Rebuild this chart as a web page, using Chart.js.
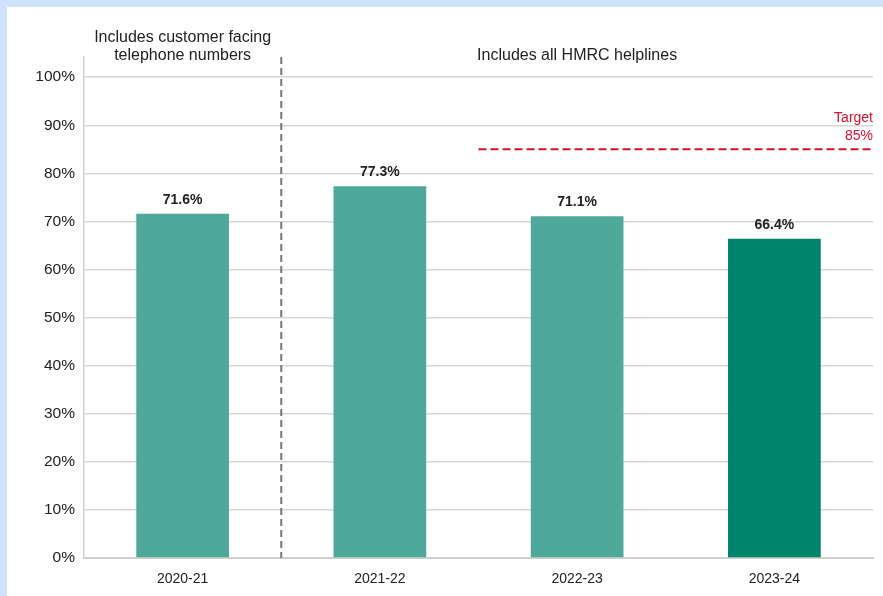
<!DOCTYPE html>
<html>
<head>
<meta charset="utf-8">
<script src="https://cdn.jsdelivr.net/npm/chart.js@4"></script>
<style>
  html, body { margin: 0; padding: 0; }
  body { background: #cfe1fb; width: 883px; height: 596px; overflow: hidden; }
  #panel { position: absolute; left: 7px; top: 7px; width: 876px; height: 589px; background: #fff; }
</style>
</head>
<body>
<div id="panel"><canvas id="calls" width="876" height="589"></canvas></div>
<script>
var years = ['2020-21', '2021-22', '2022-23', '2023-24'];
var answered = [71.6, 77.3, 71.1, 66.4];
var barColours = ['#4fa99a', '#4fa99a', '#4fa99a', '#00836d'];
var target = 85;
var targetFrom = 2;          // target line starts at 2022-23
var dividerAfter = 0;        // dashed divider after 2020-21
var groupLabels = [
    { lines: ['Includes customer facing', 'telephone numbers'], first: 0, last: 0 },
    { lines: ['Includes all HMRC helplines'], first: 1, last: 3 }
];

var FONT = '"Liberation Sans", Arial, sans-serif';

// divider, target line, headings and value labels
var extras = {
    id: 'extras',
    afterDatasetsDraw: function(chart) {
        var ctx = chart.ctx;
        var x = chart.scales.x, y = chart.scales.y;
        var area = chart.chartArea;
        var half = (x.getPixelForValue(1) - x.getPixelForValue(0)) / 2;

        ctx.save();

        // vertical divider between the two groups
        var dx = x.getPixelForValue(dividerAfter) + half;
        ctx.strokeStyle = '#777';
        ctx.lineWidth = 2;
        ctx.setLineDash([7, 4]);
        ctx.beginPath();
        ctx.moveTo(dx, area.top);
        ctx.lineTo(dx, area.bottom);
        ctx.stroke();

        // target line
        var ty = y.getPixelForValue(target);
        var tx = x.getPixelForValue(targetFrom) - half;
        ctx.strokeStyle = '#d8102f';
        ctx.setLineDash([8, 4]);
        ctx.beginPath();
        ctx.moveTo(tx, ty);
        ctx.lineTo(area.right, ty);
        ctx.stroke();
        ctx.setLineDash([]);

        ctx.fillStyle = '#d8102f';
        ctx.font = '14px ' + FONT;
        ctx.textAlign = 'right';
        ctx.textBaseline = 'middle';
        ctx.fillText('Target', area.right, ty - 31);
        ctx.fillText(target + '%', area.right, ty - 13);

        // group headings
        ctx.fillStyle = '#222';
        ctx.font = '16px ' + FONT;
        ctx.textAlign = 'center';
        groupLabels.forEach(function(g) {
            var cx = (x.getPixelForValue(g.first) + x.getPixelForValue(g.last)) / 2;
            var n = g.lines.length;
            g.lines.forEach(function(line, i) {
                ctx.fillText(line, cx, area.top - 1 - (n - 1 - i) * 18);
            });
        });

        // value labels above the bars
        ctx.font = 'bold 14px ' + FONT;
        ctx.textBaseline = 'bottom';
        chart.getDatasetMeta(0).data.forEach(function(bar, i) {
            ctx.fillText(answered[i].toFixed(1) + '%', bar.x, bar.y - 7);
        });

        ctx.restore();
    }
};

new Chart(document.getElementById('calls').getContext('2d'), {
    type: 'bar',
    data: {
        labels: years,
        datasets: [{
            data: answered,
            backgroundColor: barColours,
            categoryPercentage: 1,
            barPercentage: 0.47
        }]
    },
    options: {
        responsive: false,
        animation: false,
        layout: { padding: { left: 0, right: 10, top: 50, bottom: 0 } },
        plugins: { legend: { display: false }, tooltip: { enabled: false } },
        scales: {
            x: {
                grid: { display: false },
                border: { color: '#d0d0d0', width: 2 },
                ticks: { color: '#222', font: { family: FONT, size: 14 }, padding: 5 },
                afterFit: function(scale) { scale.height = 38; }
            },
            y: {
                min: 0,
                max: 104.2,
                afterBuildTicks: function(scale) {
                    scale.ticks = scale.ticks.filter(function(t) { return t.value % 10 === 0; });
                },
                ticks: {
                    stepSize: 10,
                    color: '#222',
                    padding: 9,
                    font: { family: FONT, size: 15.5 },
                    callback: function(v) { return v + '%'; }
                },
                grid: { color: '#d6d6d6', lineWidth: 1.5, drawTicks: false },
                border: { color: '#d0d0d0', width: 1.5 },
                afterFit: function(scale) { scale.width = 77; }
            }
        }
    },
    plugins: [extras]
});
</script>
</body>
</html>
